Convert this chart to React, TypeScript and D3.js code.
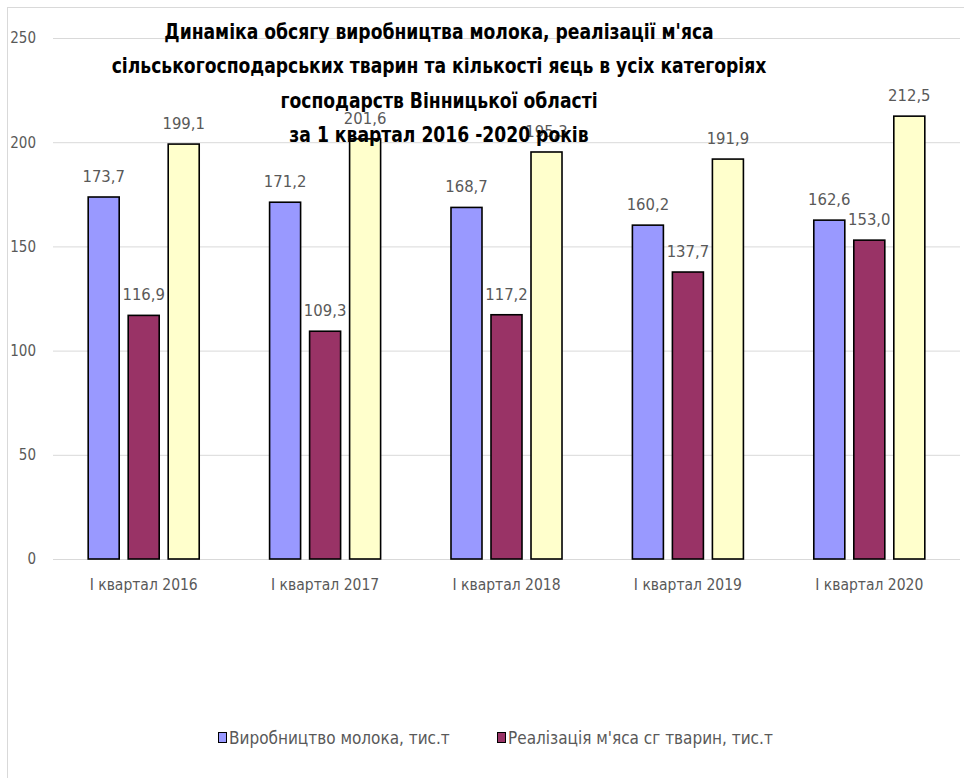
import React, { useRef, useEffect } from 'react';
import * as d3 from 'd3';

const categories = ['I квартал 2016', 'I квартал 2017', 'I квартал 2018', 'I квартал 2019', 'I квартал 2020'];
const milk = [173.7, 171.2, 168.7, 160.2, 162.6];
const meat = [116.9, 109.3, 117.2, 137.7, 153.0];
const eggs = [199.1, 201.6, 195.3, 191.9, 212.5];
const seriesNames = ['Виробництво молока, тис.т', 'Реалізація м\'яса сг тварин, тис.т', 'Виробництво яєць'];
const seriesColors = ['#9999ff', '#993366', '#ffffcc'];
const yTicks = [0, 50, 100, 150, 200, 250];
const titleLines = [
  'Динаміка обсягу виробництва молока, реалізації м\'яса',
  'сільськогосподарських тварин та кількості яєць в усіх категоріях',
  'господарств Вінницької області',
  'за 1 квартал 2016 -2020 років',
];

const FONT = '"Liberation Sans Narrow", "DejaVu Sans Condensed", "Arial Narrow", sans-serif';
const LABEL = '#595959';

const App = () => {
  const ref = useRef(null);

  useEffect(() => {
    const svg = d3.select(ref.current);
    svg.selectAll('*').remove();

    const series = [milk, meat, eggs];

    // outer chart frame (only top/left visible in the picture)
    svg.append('rect')
      .attr('x', 7.5).attr('y', 7.5)
      .attr('width', 1000).attr('height', 1000)
      .attr('fill', 'none').attr('stroke', '#d9d9d9');

    const x0 = d3.scaleBand()
      .domain(categories)
      .range([53, 960])
      .paddingInner(0.388)
      .paddingOuter(0.194);

    const x1 = d3.scaleBand()
      .domain(d3.range(series.length).map(String))
      .range([0, x0.bandwidth()])
      .paddingInner(0.225);

    const y = d3.scaleLinear().domain([0, 250]).range([559, 38]);

    const yAxis = svg.append('g')
      .attr('transform', 'translate(53,0)')
      .call(d3.axisLeft(y).tickValues(yTicks).tickSize(-907).tickPadding(17))
      .call(g => g.select('.domain').remove());
    yAxis.selectAll('.tick line').attr('stroke', '#d9d9d9');
    yAxis.selectAll('.tick text')
      .attr('fill', LABEL)
      .attr('font-family', FONT)
      .attr('font-size', 15);

    const xAxis = svg.append('g')
      .attr('transform', 'translate(0,559)')
      .call(d3.axisBottom(x0).tickSize(0).tickPadding(20))
      .call(g => g.select('.domain').remove());
    xAxis.selectAll('.tick text')
      .attr('fill', LABEL)
      .attr('font-family', FONT)
      .attr('font-size', 15.5);

    series.forEach((values, si) => {
      const g = svg.append('g');
      g.selectAll('rect')
        .data(values)
        .join('rect')
        .attr('x', (d, i) => x0(categories[i]) + x1(String(si)))
        .attr('y', d => y(d))
        .attr('width', x1.bandwidth())
        .attr('height', d => y(0) - y(d))
        .attr('fill', seriesColors[si])
        .attr('stroke', '#000')
        .attr('stroke-width', 1.6);

      g.selectAll('text')
        .data(values)
        .join('text')
        .attr('x', (d, i) => x0(categories[i]) + x1(String(si)) + x1.bandwidth() / 2)
        .attr('y', d => y(d) - 15)
        .attr('text-anchor', 'middle')
        .attr('fill', LABEL)
        .attr('font-family', FONT)
        .attr('font-size', 16.5)
        .text(d => d3.format('.1f')(d).replace('.', ','));
    });

    // title drawn over the bars, horizontally squeezed like the original narrow face
    svg.append('g')
      .attr('transform', 'translate(439,0) scale(0.91,1)')
      .selectAll('text')
      .data(titleLines)
      .join('text')
      .attr('x', 0)
      .attr('y', (d, i) => 39 + i * 34.3)
      .attr('text-anchor', 'middle')
      .attr('font-family', FONT)
      .attr('font-weight', 'bold')
      .attr('font-size', 21)
      .attr('fill', '#000')
      .text(d => d);

    // legend shows only the first two series
    const legendX = [218, 497];
    const legend = svg.append('g')
      .selectAll('g')
      .data(seriesNames.slice(0, 2))
      .join('g')
      .attr('transform', (d, i) => `translate(${legendX[i]},738)`);
    legend.append('rect')
      .attr('x', 0.5).attr('y', -5.5)
      .attr('width', 8).attr('height', 10)
      .attr('fill', (d, i) => seriesColors[i])
      .attr('stroke', '#000')
      .attr('stroke-width', 1);
    legend.append('text')
      .attr('x', 11)
      .attr('y', 6)
      .attr('fill', LABEL)
      .attr('font-family', FONT)
      .attr('font-size', 17)
      .text(d => d);
  }, []);

  return (
    <svg
      ref={ref}
      width={964}
      height={778}
      style={{ position: 'absolute', left: 0, top: 0, display: 'block', background: '#fff' }}
    />
  );
};

export default App;
